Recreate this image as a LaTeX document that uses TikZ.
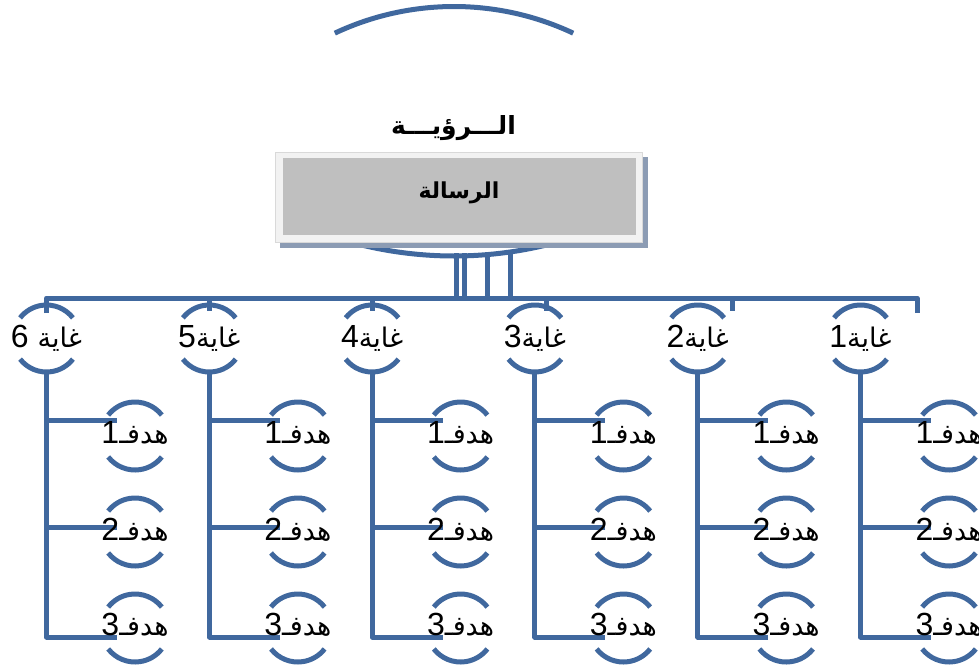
\documentclass[tikz,border=0pt]{standalone}
\usepackage{fontspec}
\setmainfont{Liberation Sans}
\newfontfamily\arabicfont[Script=Arabic]{DejaVu Sans}
\TeXXeTstate=1
\usetikzlibrary{calc}
\definecolor{linkblue}{RGB}{64,104,158}
\definecolor{boxgrey}{RGB}{191,191,191}
\definecolor{boxrim}{RGB}{242,242,242}
\definecolor{boxedge}{RGB}{217,217,217}
\definecolor{boxshadow}{RGB}{140,156,180}
% Arabic run, set right to left
\newcommand{\ar}[1]{{\arabicfont\fontsize{27}{32}\selectfont\beginR #1\endR}}

\begin{document}
\begin{tikzpicture}[x=1pt,y=-1pt,
  link/.style={draw=linkblue,line width=5pt,line join=round},
  lbl/.style={inner sep=0pt,font=\fontsize{32}{38}\selectfont,text=black},
  titlelbl/.style={inner sep=0pt,text=black}]
\useasboundingbox (0,0) rectangle (979,669);

% ---- vision: large arc pair around the mission box ----
\coordinate (vtop) at (454,286.5);
\coordinate (vbot) at (454,-138);
\draw[link] ($(vtop)+(64.8:280pt)$) arc[start angle=64.8,end angle=115.2,radius=280pt];
\draw[link] ($(vbot)+(-70:394pt)$) arc[start angle=-70,end angle=-110,radius=394pt];

\node[titlelbl] (vision) at (453.5,128) {\arabicfont\bfseries\fontsize{25}{30}\selectfont\beginR الـــرؤيـــة\endR};

% mission box with shadow
\fill[boxshadow] (280,157) rectangle (648,248);
\draw[boxedge,fill=boxrim,line width=0.8pt] (275,152) rectangle (642,242);
\fill[boxgrey] (283,158) rectangle (636,235);
\node[titlelbl] (mission) at (459,193) {\arabicfont\bfseries\fontsize{22}{26}\selectfont\beginR الرسالة\endR};

% trunk lines from the vision arc to the goal bar
\coordinate (bar) at (454,298);
\foreach \tx in {456,464,487,510}
  \draw[link] (\tx,253) -- (\tx,298);

% goal bar with its drops
\draw[link] (46.5,313) -- (46.5,298) -- (917,298) -- (917,313);
\foreach \sx in {209.3,372,546,732}
  \draw[link] (\sx,298) -- (\sx,311);

% ---- goals and their objectives ----
\foreach \k/\d/\txt in {0/6/{6 \ar{غاية}},1/5/{5\ar{غاية}},2/4/{4\ar{غاية}},
                        3/3/{3\ar{غاية}},4/2/{2\ar{غاية}},5/1/{1\ar{غاية}}}{
  \pgfmathsetmacro\gx{46.5+162.8*\k}
  \coordinate (gc\d) at (\gx,338.5);
  \draw[link] ($(gc\d)+(38:33.5pt)$) arc[start angle=38,end angle=142,radius=33.5pt];
  \draw[link] ($(gc\d)+(218:33.5pt)$) arc[start angle=218,end angle=322,radius=33.5pt];
  \node[lbl] (g\d) at (gc\d) {\txt};
  % spine of the goal
  \coordinate (gb\d) at ($(gc\d)+(0,33.5)$);
  \coordinate (ge\d) at ($(gc\d)+(0,298.5)$);
  \draw[link] (gb\d) -- (ge\d) -- ++(70.5,0);
  \draw[link] ($(gc\d)+(0,81.5)$) -- ++(70.5,0);
  \draw[link] ($(gc\d)+(0,188.5)$) -- ++(70.5,0);
  % objectives
  \foreach \j/\oy/\ty in {1/436/433,2/532/530,3/628/625}{
    \coordinate (oc\d\j) at (\gx+88.5,\oy);
    \draw[link] ($(oc\d\j)+(38:34pt)$) arc[start angle=38,end angle=142,radius=34pt];
    \draw[link] ($(oc\d\j)+(218:34pt)$) arc[start angle=218,end angle=322,radius=34pt];
    \node[lbl] (o\d\j) at (\gx+88.5,\ty) {\j\ar{هدفـ}};
  }
}
\end{tikzpicture}
\end{document}
